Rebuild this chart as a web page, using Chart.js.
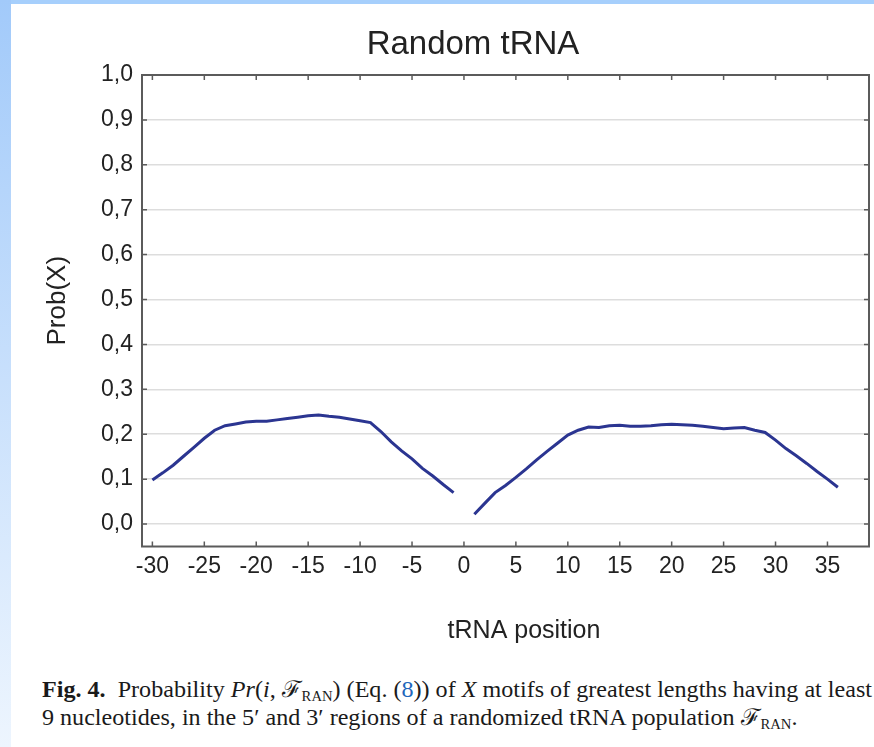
<!DOCTYPE html>
<html>
<head>
<meta charset="utf-8">
<script src="https://cdn.jsdelivr.net/npm/chart.js@4.4.1/dist/chart.umd.min.js"></script>
<style>
  html, body { margin: 0; padding: 0; background: #fff; }
  body { width: 874px; height: 747px; position: relative; overflow: hidden; }
  .edge-top { position: absolute; left: 0; top: 0; width: 874px; height: 4px; background: #a6cffc; }
  .edge-left { position: absolute; left: 0; top: 0; width: 11px; height: 747px; background: linear-gradient(#a2cafa, #edf5fe); }
  .chart-box { position: absolute; left: 0; top: 0; width: 874px; height: 660px; }
  .caption {
    position: absolute; left: 42px; top: 676px;
    font-family: "Liberation Serif", "Times New Roman", serif;
    font-size: 23px; line-height: 28px; color: #1a1a1a;
    white-space: nowrap; transform-origin: 0 0;
  }
  .caption .line { display: inline-block; }
  .caption sub { font-size: 14px; vertical-align: -4px; line-height: 0; }
  .caption .ref { color: #2266bb; }
</style>
</head>
<body>
<div class="edge-top"></div>
<div class="edge-left"></div>
<div class="chart-box"><canvas id="chart"></canvas></div>
<div class="caption" id="caption">
  <span class="line" id="line1"><b>Fig. 4.</b>&ensp;Probability <i>Pr</i>(<i>i</i>, ℱ<sub>RAN</sub>) (Eq. (<span class="ref">8</span>)) of <i>X</i> motifs of greatest lengths having at least</span><br>
  <span class="line">9 nucleotides, in the 5′ and 3′ regions of a randomized tRNA population ℱ<sub>RAN</sub>.</span>
</div>
<script>
// 5' region: positions upstream of the tRNA
const positions5 = [-30, -29, -28, -27, -26, -25, -24, -23, -22, -21, -20, -19, -18, -17, -16,
  -15, -14, -13, -12, -11, -10, -9, -8, -7, -6, -5, -4, -3, -2, -1];
const prob5 = [0.098, 0.114, 0.131, 0.151, 0.171, 0.191, 0.209, 0.219, 0.223, 0.227, 0.229, 0.229,
  0.232, 0.235, 0.238, 0.241, 0.243, 0.240, 0.238, 0.234, 0.230, 0.226, 0.206, 0.183, 0.163,
  0.145, 0.124, 0.107, 0.088, 0.070];

// 3' region: positions downstream of the tRNA
const positions3 = [1, 2, 3, 4, 5, 6, 7, 8, 9, 10, 11, 12, 13, 14, 15, 16, 17, 18, 19, 20,
  21, 22, 23, 24, 25, 26, 27, 28, 29, 30, 31, 32, 33, 34, 35, 36];
const prob3 = [0.022, 0.046, 0.070, 0.086, 0.104, 0.123, 0.143, 0.162, 0.180, 0.198, 0.209, 0.216,
  0.215, 0.219, 0.220, 0.218, 0.218, 0.219, 0.221, 0.222, 0.221, 0.220, 0.218, 0.215, 0.212,
  0.214, 0.215, 0.209, 0.204, 0.187, 0.168, 0.152, 0.135, 0.117, 0.100, 0.082];

const xTicks = [-30, -25, -20, -15, -10, -5, 0, 5, 10, 15, 20, 25, 30, 35];
const xTickLabels = ['-30', '-25', '-20', '-15', '-10', '-5', '0', '5', '10', '15', '20', '25', '30', '35'];
const yTicks = [0, 0.1, 0.2, 0.3, 0.4, 0.5, 0.6, 0.7, 0.8, 0.9, 1.0];
const yTickLabels = ['0,0', '0,1', '0,2', '0,3', '0,4', '0,5', '0,6', '0,7', '0,8', '0,9', '1,0'];

const chartTitle = 'Random tRNA';
const xTitle = 'tRNA position';
const yTitle = 'Prob(X)';

const SANS = '"Liberation Sans", Arial, sans-serif';
const INK = '#222';
const LINE = '#2b3591';

const toPoints = (xs, ys) => xs.map((x, i) => ({ x: x, y: ys[i] }));

// box around the plot, inward tick marks on all sides, axis titles
const frame = {
  id: 'frame',
  afterDraw(chart) {
    const { ctx, chartArea: a } = chart;
    const x = chart.scales.x;
    const y = chart.scales.y;
    ctx.save();
    ctx.strokeStyle = '#5b5b5b';
    ctx.lineWidth = 1.5;
    ctx.beginPath();
    xTicks.forEach((v) => {
      const px = x.getPixelForValue(v);
      ctx.moveTo(px, a.bottom);
      ctx.lineTo(px, a.bottom - 5);
      ctx.moveTo(px, a.top);
      ctx.lineTo(px, a.top + 5);
    });
    yTicks.forEach((v) => {
      const py = y.getPixelForValue(v);
      ctx.moveTo(a.left, py);
      ctx.lineTo(a.left + 5, py);
      ctx.moveTo(a.right, py);
      ctx.lineTo(a.right - 5, py);
    });
    ctx.stroke();
    ctx.lineWidth = 2;
    ctx.strokeRect(a.left, a.top, a.right - a.left, a.bottom - a.top);

    ctx.fillStyle = INK;
    ctx.textAlign = 'center';
    ctx.textBaseline = 'alphabetic';
    ctx.font = '25px ' + SANS;
    ctx.fillText(xTitle, a.left + 382, a.bottom + 91);

    ctx.font = '26px ' + SANS;
    ctx.translate(a.left - 77, (a.top + a.bottom) / 2 - 10);
    ctx.rotate(-Math.PI / 2);
    ctx.fillText(yTitle, 0, 0);
    ctx.restore();
  }
};

new Chart(document.getElementById('chart'), {
  type: 'line',
  data: {
    datasets: [
      {
        label: "5'",
        data: toPoints(positions5, prob5),
        borderColor: LINE,
        borderWidth: 3,
        pointRadius: 0,
        tension: 0,
        fill: false
      },
      {
        label: "3'",
        data: toPoints(positions3, prob3),
        borderColor: LINE,
        borderWidth: 3,
        pointRadius: 0,
        tension: 0,
        fill: false
      }
    ]
  },
  options: {
    responsive: true,
    maintainAspectRatio: false,
    animation: false,
    layout: { padding: { left: 77, right: 5, top: 0, bottom: 0 } },
    plugins: {
      legend: { display: false },
      tooltip: { enabled: false },
      title: {
        display: true,
        text: chartTitle,
        color: INK,
        font: { family: SANS, size: 33, weight: 'normal' },
        padding: { top: 25, bottom: 10.4 }
      }
    },
    scales: {
      x: {
        type: 'linear',
        min: -31,
        max: 39,
        afterBuildTicks: (scale) => { scale.ticks = xTicks.map((v) => ({ value: v })); },
        afterFit: (scale) => { scale.height = 113.5; },
        grid: { display: false },
        border: { display: false },
        ticks: {
          autoSkip: false,
          maxRotation: 0,
          padding: -2,
          color: INK,
          font: { family: SANS, size: 23 },
          callback: (v, i) => xTickLabels[i]
        }
      },
      y: {
        type: 'linear',
        min: -0.05,
        max: 1.0,
        afterBuildTicks: (scale) => { scale.ticks = yTicks.map((v) => ({ value: v })); },
        afterFit: (scale) => { scale.width = 65; },
        grid: { color: '#dddddd', lineWidth: 1.5, drawTicks: false },
        border: { display: false },
        ticks: {
          padding: 9,
          color: INK,
          font: { family: SANS, size: 23 },
          callback: (v, i) => yTickLabels[i]
        }
      }
    }
  },
  plugins: [frame]
});

// squeeze the caption so its first line fills the column width
const fitCaption = () => {
  const line1 = document.getElementById('line1');
  const w = line1.getBoundingClientRect().width;
  document.getElementById('caption').style.transform = 'scaleX(' + (830 / w) + ')';
};
if (document.fonts && document.fonts.ready) {
  document.fonts.ready.then(fitCaption);
} else {
  fitCaption();
}
</script>
</body>
</html>
